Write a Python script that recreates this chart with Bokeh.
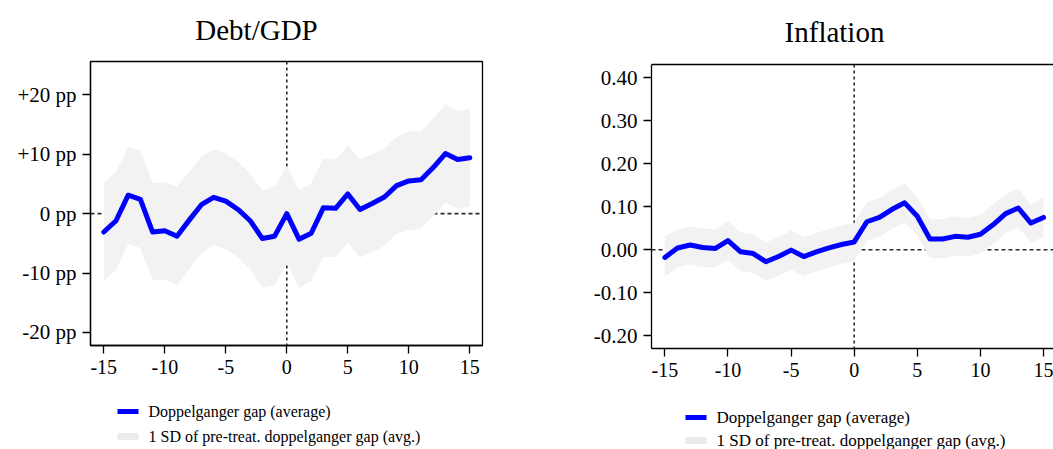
from bokeh.plotting import figure
from bokeh.models import (Range1d, FixedTicker, Span, LinearAxis, ColumnDataSource)
from bokeh.layouts import row, column
from bokeh.embed import file_html
from bokeh.resources import INLINE
from bokeh.core.properties import value

# ---------------- data ----------------
years = list(range(-15, 16))

debt_gap = [-3.1, -1.2, 3.1, 2.4, -3.1, -2.9, -3.8, -1.1, 1.5, 2.75, 2.1, 0.7, -1.2, -4.2, -3.8,
            0.0, -4.3, -3.3, 1.0, 0.9, 3.3, 0.7, 1.7, 2.8, 4.7, 5.5, 5.7, 7.75, 10.1, 9.1, 9.4]
debt_upper = [5.1, 7.0, 11.2, 10.7, 5.1, 5.3, 4.5, 7.0, 9.6, 10.8, 10.1, 8.7, 6.7, 3.9, 4.5,
              8.0, 3.9, 5.1, 9.2, 9.1, 11.5, 9.1, 10.0, 11.0, 12.9, 13.8, 13.9, 16.0, 18.4, 17.2, 17.6]
debt_lower = [-11.3, -9.4, -5.1, -5.8, -11.2, -11.1, -12.0, -9.3, -6.7, -5.3, -6.0, -7.4, -9.4, -12.5, -12.1,
              -8.3, -12.5, -11.3, -7.3, -7.3, -4.9, -7.4, -6.5, -5.4, -3.4, -2.8, -2.5, -0.4, 1.85, 0.8, 1.2]

infl_gap = [-0.018, 0.004, 0.011, 0.005, 0.003, 0.021, -0.005, -0.009, -0.028, -0.016, -0.001, -0.016,
            -0.005, 0.004, 0.012, 0.018, 0.065, 0.075, 0.094, 0.109, 0.078, 0.025, 0.025, 0.031, 0.029,
            0.036, 0.058, 0.084, 0.097, 0.062, 0.075]
infl_upper = [0.031, 0.047, 0.054, 0.050, 0.047, 0.067, 0.040, 0.036, 0.017, 0.029, 0.045, 0.029,
              0.039, 0.048, 0.056, 0.062, 0.110, 0.120, 0.139, 0.154, 0.122, 0.071, 0.071, 0.078, 0.074,
              0.081, 0.105, 0.129, 0.143, 0.105, 0.122]
infl_lower = [-0.063, -0.041, -0.034, -0.040, -0.042, -0.024, -0.050, -0.054, -0.073, -0.061, -0.046, -0.061,
              -0.050, -0.041, -0.033, -0.027, 0.020, 0.030, 0.049, 0.064, 0.033, -0.020, -0.020, -0.014, -0.016,
              -0.009, 0.013, 0.039, 0.052, 0.017, 0.030]

x_ticks = [-15, -10, -5, 0, 5, 10, 15]
x_tick_labels = ["-15", "-10", "-5", "0", "5", "10", "15"]
debt_ticks = [-20, -10, 0, 10, 20]
debt_tick_labels = ["-20 pp", "-10 pp", "0 pp", "+10 pp", "+20 pp"]
infl_ticks = [-0.2, -0.1, 0.0, 0.1, 0.2, 0.3, 0.4]
infl_tick_labels = ["-0.20", "-0.10", "0.00", "0.10", "0.20", "0.30", "0.40"]

titles = ["Debt/GDP", "Inflation"]
legend_labels = ["Doppelganger gap (average)", "1 SD of pre-treat. doppelganger gap (avg.)"]

# ---------------- style ----------------
FONT = "Liberation Serif"
BLUE = "#0000ff"
BAND = "#f2f2f2"
BAND_LEG = "#ebebeb"
DASH_COLOR = "#2b2b2b"
TITLE_H = 50
LEGEND_H = 64


def blank_strip(width, height, bl, br):
    """Axis-free figure whose frame matches the panel's frame; x in figure pixels, y downwards."""
    q = figure(width=width, height=height, x_range=Range1d(bl, width - br), y_range=Range1d(height, 0),
               output_backend="svg", toolbar_location=None, x_axis_type=None, y_axis_type=None,
               min_border_left=bl, min_border_right=br, min_border_top=0, min_border_bottom=0)
    q.grid.visible = False
    q.outline_line_color = None
    q.background_fill_color = "white"
    q.border_fill_color = "white"
    return q


def make_title(width, bl, br, text, cx, cy, size):
    q = blank_strip(width, TITLE_H, bl, br)
    q.text(x=[cx], y=[cy], text=[text], text_align="center", text_baseline="middle",
           text_font=value(FONT), text_font_size=size, text_color="black")
    return q


def make_legend(width, bl, br, gx, rows, font_size):
    q = blank_strip(width, LEGEND_H, bl, br)
    gw = 21
    q.segment(x0=[gx], x1=[gx + gw], y0=[rows[0]], y1=[rows[0]], line_color=BLUE, line_width=5)
    q.segment(x0=[gx], x1=[gx + gw], y0=[rows[1]], y1=[rows[1]], line_color=BAND_LEG, line_width=7)
    q.text(x=[gx + gw + 10] * 2, y=rows, text=legend_labels, text_align="left",
           text_baseline="middle", text_font=value(FONT), text_font_size=font_size,
           text_color="black")
    return q


def style_axis(ax, ticks, labels, size):
    ax.ticker = FixedTicker(ticks=ticks)
    ax.major_label_overrides = {t: l for t, l in zip(ticks, labels)}
    ax.major_tick_out = 8
    ax.major_tick_in = 0
    ax.minor_tick_out = 0
    ax.minor_tick_in = 0
    ax.axis_line_color = "black"
    ax.axis_line_width = 1.3
    ax.major_tick_line_color = "black"
    ax.major_tick_line_width = 1.3
    ax.major_label_text_font = FONT
    ax.major_label_text_font_size = size
    ax.major_label_text_color = "black"
    ax.major_label_standoff = 6


def make_panel(width, height, xr, yr, borders, gap, upper, lower, yticks, ylabels, outline=True):
    p = figure(width=width, height=height, x_range=Range1d(*xr), y_range=Range1d(*yr),
               output_backend="svg", toolbar_location=None,
               min_border_left=borders[0], min_border_right=borders[1],
               min_border_top=borders[2], min_border_bottom=borders[3])
    p.background_fill_color = "white"
    p.border_fill_color = "white"
    p.grid.visible = False

    style_axis(p.below[0], x_ticks, x_tick_labels, "20px")
    style_axis(p.left[0], yticks, ylabels, "21px")

    if outline:
        p.outline_line_color = "black"
        p.outline_line_width = 1.3
    else:
        p.outline_line_color = None
        top = LinearAxis(ticker=FixedTicker(ticks=[]), major_label_text_font_size="0px",
                         major_tick_out=0, major_tick_in=0, minor_tick_out=0, minor_tick_in=0,
                         axis_line_color="black", axis_line_width=1.3)
        p.add_layout(top, "above")

    # reference lines underneath the band
    p.add_layout(Span(location=0, dimension="height", line_color=DASH_COLOR,
                      line_width=1.6, line_dash="3 3", level="underlay"))
    p.add_layout(Span(location=0, dimension="width", line_color=DASH_COLOR,
                      line_width=1.6, line_dash="4 3", level="underlay"))

    src = ColumnDataSource(dict(x=years, y=gap, hi=upper, lo=lower))
    p.varea(x="x", y1="lo", y2="hi", source=src, fill_color=BAND, fill_alpha=1)
    p.line(x="x", y="y", source=src, line_color=BLUE, line_width=5,
           line_join="round", line_cap="round")
    return p


W1, W2 = 540, 513
B1 = (90, 58)     # left / right borders of the Debt/GDP panel
B2 = (111, 0)     # left / right borders of the Inflation panel
MAIN_H = 449 - TITLE_H - LEGEND_H

t1 = make_title(W1, *B1, titles[0], 256, 29, "29px")
p1 = make_panel(W1, MAIN_H, (-16.09, 16.04), (-22.2, 25.6), (B1[0], B1[1], 11, 40),
                debt_gap, debt_upper, debt_lower, debt_ticks, debt_tick_labels, outline=True)
l1 = make_legend(W1, *B1, 117, [26, 51], "16px")

t2 = make_title(W2, *B2, titles[1], 294, 31, "29px")
p2 = make_panel(W2, MAIN_H, (-16.06, 15.79), (-0.230, 0.431), (B2[0], B2[1], 14, 37),
                infl_gap, infl_upper, infl_lower, infl_ticks, infl_tick_labels, outline=False)
l2 = make_legend(W2, *B2, 145, [32, 55], "17px")

layout = row(column(t1, p1, l1), column(t2, p2, l2))

open("out.html", "w").write(file_html(layout, INLINE))
